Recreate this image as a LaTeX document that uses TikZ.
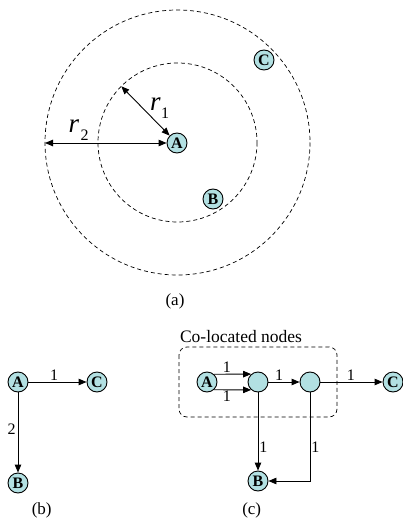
\documentclass[tikz,border=0pt]{standalone}
\usepackage{fontspec}
\setmainfont{Liberation Serif}
\usetikzlibrary{arrows.meta}
\definecolor{nfill}{RGB}{178,224,226}
\begin{document}
\begin{tikzpicture}[x=1pt,y=-1pt,
  nd/.style={circle,draw,line width=0.9pt,fill=nfill,minimum size=20pt,inner sep=0pt,font=\fontsize{16}{16}\selectfont\bfseries},
  arr/.style={line width=0.9pt,-{Triangle[length=8pt,width=6.5pt]}},
  dbl/.style={line width=0.9pt,{Triangle[length=8pt,width=6.5pt]}-{Triangle[length=8pt,width=6.5pt]}},
  dsh/.style={line width=0.7pt,dash pattern=on 4pt off 3pt},
  lbl/.style={font=\fontsize{16}{16}\selectfont,inner sep=1pt},
  rlbl/.style={font=\fontsize{27}{27}\selectfont\itshape,inner sep=0pt},
  sublbl/.style={font=\fontsize{16}{16}\selectfont,inner sep=0pt},
  captxt/.style={font=\fontsize{17}{17}\selectfont,inner sep=0pt}
]
\useasboundingbox (0,0) rectangle (402,521);

% ---------- (a) ----------
\coordinate (O) at (177.5,142.5);
\draw[dsh] (O) circle[radius=132.5];
\draw[dsh] (O) circle[radius=79.5];
\coordinate (r1end) at (121.3,86.3);
\coordinate (r2end) at (45,143);
\node[nd] (aA) at (177,143) {A};
\node[nd] (aB) at (213,199) {B};
\node[nd] (aC) at (264,60) {C};
\draw[dbl] (r1end) -- (aA.135);
\draw[dbl] (r2end) -- (aA.west);
\node[rlbl] (r1) at (155.5,104.5) {r};
\node[sublbl] (r1s) at (165,113) {1};
\node[rlbl] (r2) at (74,126.5) {r};
\node[sublbl] (r2s) at (84.5,135.5) {2};
\node[captxt] (capa) at (175,301.7) {(a)};

% ---------- (b) ----------
\node[nd] (bA) at (18,382) {A};
\node[nd] (bC) at (97,382) {C};
\node[nd] (bB) at (18,483) {B};
\draw[arr] (bA) -- node[lbl,pos=0.44,above] {1} (bC);
\draw[arr] (bA) -- node[lbl,pos=0.46,left,inner sep=2pt] {2} (bB);
\node[captxt] (capb) at (41.7,510) {(b)};

% ---------- (c) ----------
\draw[dsh,rounded corners=8pt] (179,347) rectangle (337,417);
\node[font=\fontsize{17.5}{17.5}\selectfont,inner sep=0pt] (co) at (241,336.5) {Co-located nodes};
\node[nd] (cA) at (207,382) {A};
\node[nd] (n1) at (258,382) {};
\node[nd] (n2) at (310,382) {};
\node[nd] (cC) at (393,382) {C};
\node[nd] (cB) at (258,481) {B};
\draw[arr] (cA.48.6) -- node[lbl,pos=0.35,above] {1} (n1.131.4);
\draw[arr] (cA.-48.6) -- node[lbl,pos=0.35,below] {1} (n1.-131.4);
\draw[arr] (n1) -- node[lbl,pos=0.34,above] {1} (n2);
\draw[arr] (n2) -- node[lbl,pos=0.49,above] {1} (cC);
\draw[arr] (n1) -- node[lbl,pos=0.7,right] {1} (cB);
\draw[arr] (n2.south) |- node[lbl,pos=0.31,right] {1} (cB.east);
\node[captxt] (capc) at (251.7,510) {(c)};
\end{tikzpicture}
\end{document}
